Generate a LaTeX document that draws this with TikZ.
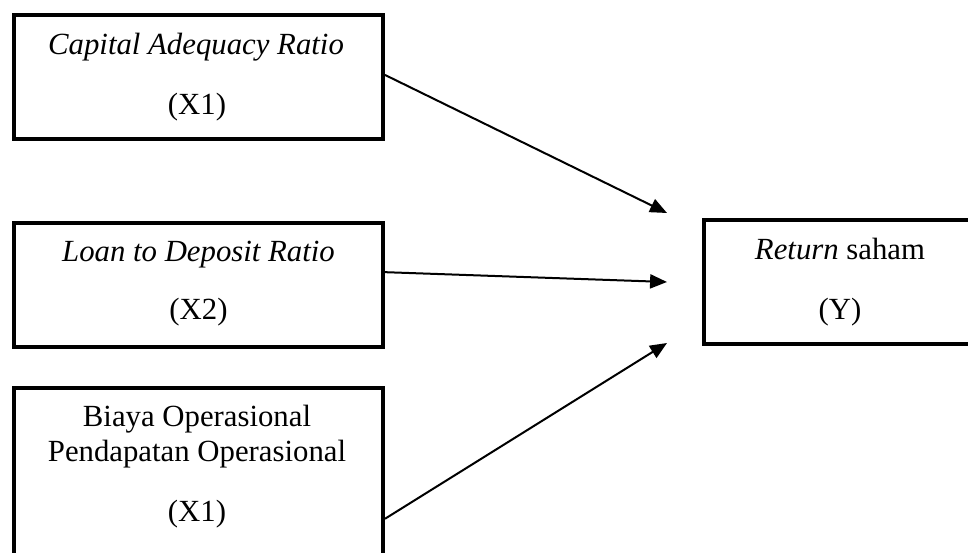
\documentclass[tikz,border=0pt]{standalone}
\usepackage{fontspec}
\setmainfont{Liberation Serif}
\usetikzlibrary{arrows.meta}

\newlength{\px}
\setlength{\px}{0.39pt}

\tikzset{
  varbox/.style={draw, line width=4\px, inner sep=0pt, minimum height=124\px},
  vartext/.style={anchor=base, inner sep=0pt, font=\fontsize{12}{14}\selectfont},
  link/.style={line width=0.78pt, -{Triangle[length=6.6pt,width=5.5pt]}},
}

\begin{document}
\begin{tikzpicture}[x=\px, y=-\px]
\useasboundingbox (0,0) rectangle (968,553);
\clip (0,0) rectangle (968,553);

% boxes
\node[varbox, minimum width=369\px] (car) at (198.5,77) {};
\node[varbox, minimum width=369\px] (ldr) at (198.5,285) {};
\node[varbox, minimum width=369\px, minimum height=200\px, anchor=north] (bopo) at (198.5,386) {};
\node[varbox, minimum width=273\px] (ret) at (840.5,282.5) {};

% texts
\node[vartext] (carA) at (196,55) {\textit{Capital Adequacy Ratio}};
\node[vartext] (carB) at (197,115) {(X1)};
\node[vartext] (ldrA) at (198.5,262) {\textit{Loan to Deposit Ratio}};
\node[vartext] (ldrB) at (198.5,320) {(X2)};
\node[vartext] (bopoA) at (197,427) {Biaya Operasional};
\node[vartext] (bopoB) at (197,462) {Pendapatan Operasional};
\node[vartext] (bopoC) at (197,522) {(X1)};
\node[vartext] (retA) at (840,260) {\textit{Return} saham};
\node[vartext] (retB) at (840,320) {(Y)};

% arrows
\coordinate (in1) at (667,213);
\coordinate (in2) at (667,282);
\coordinate (in3) at (667,343);
\draw[link] ([yshift=0.8pt]car.east) -- (in1);
\draw[link] ([yshift=5pt]ldr.east) -- (in2);
\draw[link] ([yshift=-12pt]bopo.east) -- (in3);
\end{tikzpicture}
\end{document}
